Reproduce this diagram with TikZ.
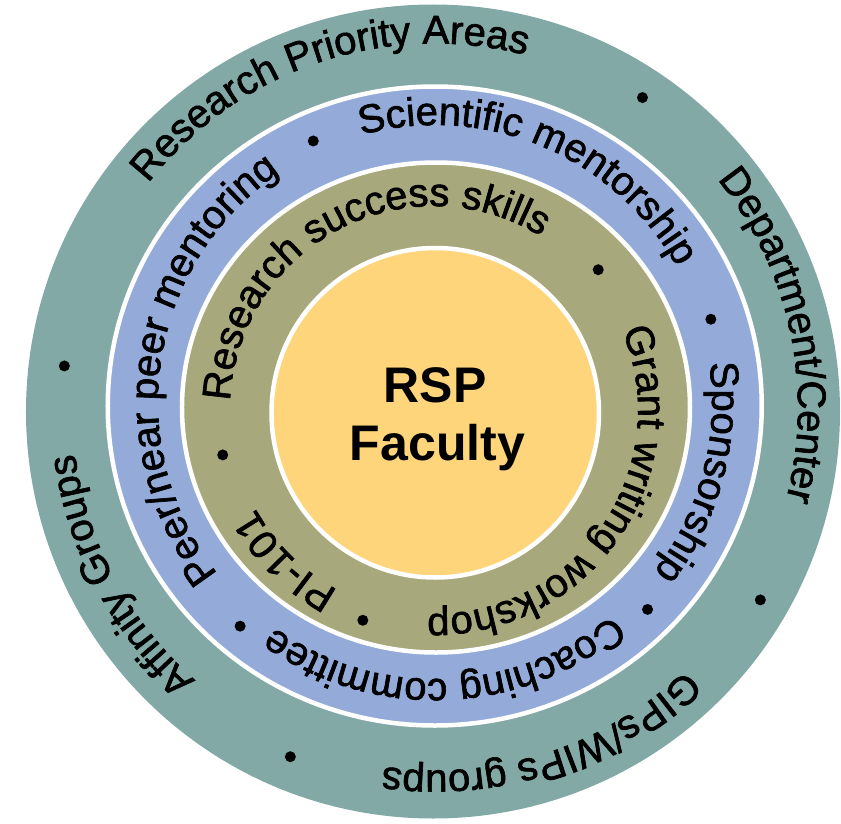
\documentclass[tikz,border=0pt]{standalone}
\usepackage{fontspec}
\setmainfont{Liberation Sans}
\newfontfamily\ringfam[FakeBold=1.6]{Liberation Sans}
\usepackage{tikz}
\usetikzlibrary{decorations.text}
\definecolor{ringteal}{RGB}{131,169,166}
\definecolor{ringblue}{RGB}{148,171,217}
\definecolor{ringolive}{RGB}{168,168,125}
\definecolor{coreyellow}{RGB}{254,213,122}
\newcommand\ringfont{\ringfam\fontsize{40}{48}\selectfont}
\tikzset{
  ring/.style={draw=white,line width=4.5pt},
  bullet/.style={fill=black},
  ringtext/.style={decorate,decoration={text along path,text align=center,text={|\ringfont|#1}}},
  core/.style={anchor=base,inner sep=0pt,font=\fontsize{50}{58}\selectfont\bfseries},
}

\begin{document}
\begin{tikzpicture}[x=1pt,y=1pt]
  \useasboundingbox (-435,-413) rectangle (406,410);
  % rings, outside in
  \fill[ringteal] (-2,-1.5) circle[radius=407];
  \filldraw[ring,fill=ringblue] (-0.25,4) ellipse[x radius=327,y radius=319.5];
  \filldraw[ring,fill=ringolive] (1,2.5) ellipse[x radius=254,y radius=245];
  \filldraw[ring,fill=coreyellow] (0.25,-2.75) ellipse[x radius=163.75,y radius=164.75];
  % outer ring
  \begin{scope}[shift={(0,2.5)}]
    \path[ringtext=Research Priority Areas] (183.75:364) arc[start angle=183.75,end angle=33.75,radius=364];
    \path[ringtext=Department/Center] (87.1:363) arc[start angle=87.1,end angle=-62.9,radius=363];
    \path[ringtext=GIPs/WIPs groups] (2.75:363) arc[start angle=2.75,end angle=-147.25,radius=363];
    \path[ringtext=Affinity Groups] (283:363) arc[start angle=283,end angle=133,radius=363];
    \fill[bullet] (56.2:373) circle[radius=5.5];
    \fill[bullet] (-30.6:378) circle[radius=5.5];
    \fill[bullet] (247.5:378) circle[radius=5.5];
    \fill[bullet] (173.6:373) circle[radius=5.5];
  \end{scope}
  % middle ring
  \begin{scope}[shift={(0,8)}]
    \path[ringtext=Scientific mentorship] (142.25:277) arc[start angle=142.25,end angle=-7.75,radius=277];
    \path[ringtext=Sponsorship] (60.1:277) arc[start angle=60.1,end angle=-89.9,radius=277];
    \path[ringtext=Coaching committee] (-12.9:277) arc[start angle=-12.9,end angle=-162.9,radius=277];
    \path[ringtext=Peer/near peer mentoring] (246.2:277) arc[start angle=246.2,end angle=96.2,radius=277];
    \fill[bullet] (16.7:288) circle[radius=5.5];
    \fill[bullet] (-44.3:297) circle[radius=5.5];
    \fill[bullet] (229:297) circle[radius=5.5];
    \fill[bullet] (115:288) circle[radius=5.5];
  \end{scope}
  % inner ring
  \begin{scope}[shift={(-1,0)}]
    \path[ringtext=Research success skills] (192.9:204) arc[start angle=192.9,end angle=42.9,radius=204];
    \path[ringtext=Grant writing workshop] (40.5:204) arc[start angle=40.5,end angle=-109.5,radius=204];
    \path[ringtext=PI-101] (300.4:204) arc[start angle=300.4,end angle=150.4,radius=204];
    \fill[bullet] (40.5:216) circle[radius=5.5];
    \fill[bullet] (251.3:222) circle[radius=5.5];
    \fill[bullet] (192:216) circle[radius=5.5];
  \end{scope}
  % core
  \node[core] (rsp) at (0,8) {RSP};
  \node[core] (faculty) at (2.5,-50) {Faculty};
\end{tikzpicture}
\end{document}
